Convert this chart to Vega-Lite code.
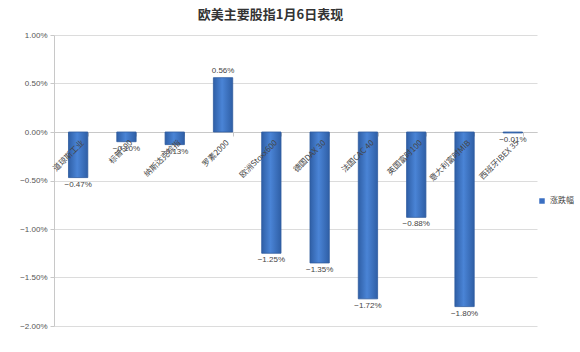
{
  "$schema": "https://vega.github.io/schema/vega-lite/v6.json",
  "autosize": {"type": "none"},
  "padding": {"left": 54, "top": 35, "right": 43, "bottom": 26},
  "width": 483,
  "height": 291,
  "background": "white",
  "title": {"text": "欧美主要股指1月6日表现", "fontSize": 13, "fontWeight": "bold", "color": "#333333", "offset": 9, "dx": -25, "font": "Noto Sans CJK SC"},
  "config": {"font": "Noto Sans CJK SC", "view": {"stroke": null}},
  "data": {"values": [
    {"name": "道琼斯工业", "v": -0.0047},
    {"name": "标普500", "v": -0.0010},
    {"name": "纳斯达克综指", "v": -0.0013},
    {"name": "罗素2000", "v": 0.0056},
    {"name": "欧洲Stoxx600", "v": -0.0125},
    {"name": "德国DAX 30", "v": -0.0135},
    {"name": "法国CAC 40", "v": -0.0172},
    {"name": "英国富时100", "v": -0.0088},
    {"name": "意大利富时MIB", "v": -0.0180},
    {"name": "西班牙IBEX 35", "v": -0.0001}
  ]},
  "encoding": {
    "x": {"field": "name", "type": "nominal", "sort": null,
          "scale": {"paddingInner": 0.6, "paddingOuter": 0.3},
          "axis": {"labels": false, "title": null, "offset": -194, "tickBand": "extent", "tickSize": 4, "domainColor": "#c8c8c8", "tickColor": "#c8c8c8", "zindex": 0}}
  },
  "layer": [
    {
      "mark": {"type": "bar", "stroke": "#2d5a9e", "strokeWidth": 0.8,
               "color": {"gradient": "linear", "x1": 0, "y1": 0, "x2": 1, "y2": 0,
                         "stops": [{"offset": 0, "color": "#2f5fa6"}, {"offset": 0.45, "color": "#4a84d6"}, {"offset": 1, "color": "#2f5fa6"}]}},
      "encoding": {
        "y": {"field": "v", "type": "quantitative",
              "scale": {"domain": [-0.02, 0.01], "nice": false},
              "axis": {"title": null, "format": ".2%", "values": [-0.02, -0.015, -0.01, -0.005, 0, 0.005, 0.01],
                       "labelFontSize": 8, "labelColor": "#555555", "labelFont": "Liberation Sans", "tickSize": 4, "tickColor": "#c8c8c8", "domainColor": "#c8c8c8",
                       "gridColor": "#dcdcdc", "labelPadding": 3}}
      }
    },
    {
      "mark": {"type": "bar", "opacity": 0},
      "encoding": {
        "y": {"field": "v", "type": "quantitative"},
        "color": {"datum": "涨跌幅", "scale": {"range": ["#3a6fc2"]},
                  "legend": {"title": null, "orient": "none", "legendX": 484, "legendY": 162, "symbolType": "square", "symbolSize": 30, "symbolOpacity": 1, "labelFontSize": 8, "labelColor": "#444444", "symbolStrokeWidth": 0}}
      }
    },
    {
      "transform": [{"filter": "datum.v < 0"}],
      "mark": {"type": "text", "baseline": "top", "dy": 3, "fontSize": 8, "color": "#444444", "font": "Liberation Sans"},
      "encoding": {"y": {"field": "v", "type": "quantitative"}, "text": {"field": "v", "format": ".2%"}}
    },
    {
      "transform": [{"filter": "datum.v >= 0"}],
      "mark": {"type": "text", "baseline": "bottom", "dy": -3, "fontSize": 8, "color": "#444444", "font": "Liberation Sans"},
      "encoding": {"y": {"field": "v", "type": "quantitative"}, "text": {"field": "v", "format": ".2%"}}
    },
    {
      "mark": {"type": "text", "angle": -45, "align": "right", "baseline": "middle", "xOffset": 5, "yOffset": 10, "fontSize": 8, "color": "#444444"},
      "encoding": {"y": {"datum": 0, "type": "quantitative"}, "text": {"field": "name"}}
    }
  ]
}
